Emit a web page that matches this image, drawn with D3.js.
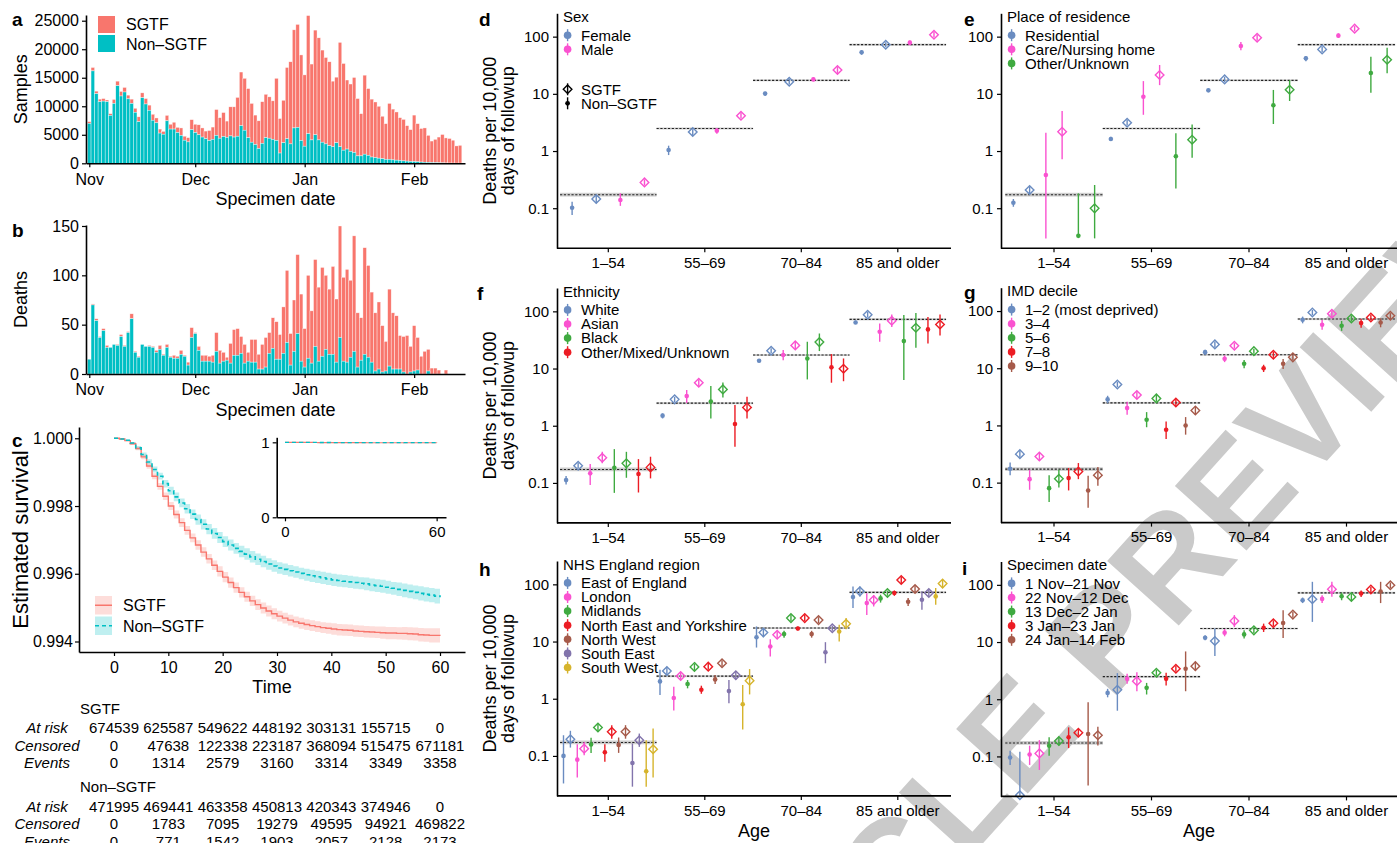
<!DOCTYPE html>
<html>
<head>
<meta charset="utf-8">
<script src="https://cdn.jsdelivr.net/npm/d3@7"></script>
<style>
  body { margin: 0; background: #fff; }
  svg { display: block; }
</style>
</head>
<body>
<svg id="figure" width="1397" height="843"></svg>
<script>
// ---------- a, b: daily counts by specimen date, starting 1 Nov 2020 ----------
const firstDay = Date.UTC(2020, 10, 1);
const monthTicks = [Date.UTC(2020, 10, 1), Date.UTC(2020, 11, 1), Date.UTC(2021, 0, 1), Date.UTC(2021, 1, 1)];

const samplesTotal = [
  7300, 16800, 12650, 11250, 11350, 11100, 8700, 11200, 14400, 12600,
  13300, 11950, 11250, 9650, 8150, 12350, 11350, 10200, 8600, 7950,
  6000, 5600, 8400, 6850, 7200, 6300, 6200, 4750, 4500, 7650,
  6850, 6750, 6200, 5650, 5750, 6350, 9430, 8000, 8900, 7400,
  9900, 9900, 11550, 16000, 14900, 13100, 10500, 8450, 7450, 10800,
  12100, 11650, 10950, 14900, 7850, 11050, 16800, 17800, 23400, 24350,
  19000, 15500, 25900, 17400, 23350, 22000, 19850, 18550, 17800, 14400,
  15100, 21200, 17500, 14600, 13900, 15050, 11350, 8700, 15450, 13100,
  11250, 10750, 10000, 8250, 6950, 10500, 9500, 9000, 8000, 7700,
  6600, 5900, 8450, 6950, 6100, 6200, 4900, 3900, 4200, 4600,
  5050, 4450, 4350, 4050, 3050, 3150
];
const samplesNonSgtf = [
  7000, 16200, 12200, 10800, 10900, 10800, 8400, 10500, 13600, 11800,
  12500, 11300, 10500, 8950, 7300, 11500, 10400, 9300, 7550, 7100,
  5300, 5100, 7450, 6000, 6000, 5400, 4900, 4050, 3750, 5900,
  5400, 5000, 4600, 4300, 4000, 4200, 4900, 4400, 4700, 4550,
  4800, 4600, 4750, 6600, 5800, 4500, 3700, 3300, 2600, 3500,
  4500, 4400, 4200, 4000, 1800, 3600, 4300, 3400, 6200, 6300,
  4000, 3000, 5200, 4100, 5000, 4100, 3700, 3400, 3100, 2900,
  3600, 2900, 2300, 2500, 2100, 1900, 1300, 1300, 1600, 1400,
  1100, 1000, 900, 800, 700, 700, 600, 550, 500, 420,
  380, 320, 300, 260, 220, 190, 160, 130, 110, 90,
  80, 60, 50, 40, 30, 30
];
const deathsTotal = [
  15, 71, 56, 38, 46, 29, 27, 30, 30, 40,
  29, 43, 61, 23, 18, 30, 28, 29, 28, 24,
  29, 20, 30, 18, 19, 18, 24, 19, 12, 47,
  42, 28, 19, 19, 18, 19, 42, 24, 22, 17,
  31, 45, 46, 38, 30, 22, 35, 35, 20, 30,
  37, 42, 57, 53, 40, 68, 105, 41, 75, 121,
  81, 46, 100, 64, 116, 88, 108, 100, 86, 109,
  76, 150, 98, 106, 95, 140, 62, 57, 128, 110,
  83, 62, 73, 49, 33, 86, 62, 59, 39, 38,
  39, 28, 49, 37, 18, 23, 25, 6, 6, 4,
  0, 4, 0, 0, 0, 0
];
const deathsNonSgtf = [
  15, 70, 54, 37, 44, 27, 27, 30, 29, 38,
  28, 42, 56, 22, 17, 30, 28, 28, 27, 22,
  25, 19, 27, 17, 16, 16, 20, 18, 9, 37,
  41, 24, 13, 13, 13, 12, 23, 11, 13, 14,
  11, 19, 19, 21, 11, 13, 12, 12, 5, 5,
  7, 21, 26, 15, 15, 21, 32, 9, 23, 41,
  13, 7, 16, 11, 28, 13, 18, 25, 20, 20,
  12, 37, 13, 12, 17, 23, 7, 14, 20, 17,
  12, 3, 5, 2, 3, 8, 5, 5, 5, 2,
  0, 2, 3, 4, 0, 0, 3, 0, 0, 0,
  0, 0, 0, 0, 0, 0
];

// ---------- c: Kaplan-Meier survival by day of followup (0..60) ----------
const kmSgtf = [
  1.00000, 0.99998, 0.99993, 0.99984, 0.99970, 0.99945, 0.99918, 0.99888, 0.99858, 0.99829,
  0.99800, 0.99775, 0.99751, 0.99728, 0.99706, 0.99685, 0.99664, 0.99644, 0.99625, 0.99607,
  0.99590, 0.99574, 0.99559, 0.99545, 0.99532, 0.99520, 0.99509, 0.99499, 0.99490, 0.99482,
  0.99475, 0.99469, 0.99463, 0.99458, 0.99454, 0.99450, 0.99447, 0.99444, 0.99441, 0.99439,
  0.99437, 0.99435, 0.99434, 0.99433, 0.99431, 0.99430, 0.99429, 0.99428, 0.99427, 0.99426,
  0.99425, 0.99425, 0.99424, 0.99424, 0.99423, 0.99422, 0.99420, 0.99419, 0.99418, 0.99418,
  0.99417
];
const kmNonSgtf = [
  1.00000, 0.99998, 0.99994, 0.99986, 0.99972, 0.99952, 0.99930, 0.99908, 0.99888, 0.99866,
  0.99845, 0.99827, 0.99809, 0.99792, 0.99776, 0.99760, 0.99746, 0.99732, 0.99719, 0.99707,
  0.99695, 0.99685, 0.99675, 0.99666, 0.99658, 0.99650, 0.99643, 0.99636, 0.99629, 0.99623,
  0.99617, 0.99613, 0.99609, 0.99605, 0.99601, 0.99597, 0.99594, 0.99591, 0.99588, 0.99585,
  0.99582, 0.99580, 0.99578, 0.99576, 0.99574, 0.99572, 0.99570, 0.99567, 0.99565, 0.99563,
  0.99560, 0.99557, 0.99554, 0.99551, 0.99548, 0.99545, 0.99542, 0.99539, 0.99537, 0.99534,
  0.99531
];
// half widths of the confidence bands
const kmSgtfHalf = [
  0, 0.00001, 0.00002, 0.00004, 0.00005, 0.00007, 0.00008, 0.00009, 0.00010, 0.00011,
  0.00012, 0.00012, 0.00013, 0.00013, 0.00013, 0.00014, 0.00014, 0.00014, 0.00014, 0.00015,
  0.00015, 0.00015, 0.00015, 0.00015, 0.00015, 0.00015, 0.00016, 0.00016, 0.00016, 0.00016,
  0.00016, 0.00016, 0.00016, 0.00016, 0.00016, 0.00016, 0.00016, 0.00016, 0.00016, 0.00016,
  0.00017, 0.00017, 0.00017, 0.00017, 0.00017, 0.00017, 0.00017, 0.00017, 0.00017, 0.00018,
  0.00018, 0.00018, 0.00018, 0.00019, 0.00019, 0.00019, 0.00020, 0.00020, 0.00021, 0.00021,
  0.00022
];
const kmNonSgtfHalf = [
  0, 0.00001, 0.00002, 0.00003, 0.00005, 0.00006, 0.00008, 0.00009, 0.00010, 0.00011,
  0.00012, 0.00013, 0.00013, 0.00014, 0.00014, 0.00015, 0.00015, 0.00015, 0.00016, 0.00016,
  0.00016, 0.00016, 0.00016, 0.00017, 0.00017, 0.00017, 0.00017, 0.00017, 0.00017, 0.00017,
  0.00017, 0.00017, 0.00017, 0.00017, 0.00017, 0.00018, 0.00018, 0.00018, 0.00018, 0.00018,
  0.00018, 0.00018, 0.00018, 0.00018, 0.00018, 0.00018, 0.00019, 0.00019, 0.00019, 0.00019,
  0.00019, 0.00019, 0.00020, 0.00020, 0.00020, 0.00020, 0.00021, 0.00021, 0.00021, 0.00022,
  0.00022
];

// risk table
const riskTimes = [0, 10, 20, 30, 40, 50, 60];
const sgtfAtRisk = [674539, 625587, 549622, 448192, 303131, 155715, 0];
const sgtfCensored = [0, 47638, 122338, 223187, 368094, 515475, 671181];
const sgtfEvents = [0, 1314, 2579, 3160, 3314, 3349, 3358];
const nonAtRisk = [471995, 469441, 463358, 450813, 420343, 374946, 0];
const nonCensored = [0, 1783, 7095, 19279, 49595, 94921, 469822];
const nonEvents = [0, 771, 1542, 1903, 2057, 2128, 2173];

// ---------- d-i: deaths per 10,000 days of followup ----------
const ageGroups = ["1\u201354", "55\u201369", "70\u201384", "85 and older"];
const refRate = [0.172, 2.48, 17.2, 72.5];
const refLow = [0.160, 2.38, 16.6, 69.5];
const refHigh = [0.186, 2.58, 17.8, 75.5];
const rateTicks = [0.1, 1, 10, 100];

// each row: one level, non-SGTF then SGTF; [estimate, lower, upper] per age group
const sexLevels = ["Female", "Male"];
const sexRows = [
  [[0.102, 0.076, 0.130], [1.04, 0.85, 1.24], [10.1, 9.3, 10.9], [53.1, 48.4, 58.0]],
  [[0.145, 0.122, 0.170], [2.15, 1.90, 2.40], [16.3, 14.6, 18.4], [72.3, 65.0, 80.0]],
  [[0.139, 0.110, 0.182], [2.27, 2.00, 2.50], [17.9, 16.6, 19.4], [78.5, 71.0, 86.0]],
  [[0.283, 0.250, 0.320], [4.15, 3.70, 4.70], [26.1, 23.2, 29.4], [108, 97, 120]]
];

const residenceLevels = ["Residential", "Care/Nursing home", "Other/Unknown"];
const residenceRows = [
  [[0.125, 0.106, 0.145], [1.62, 1.50, 1.78], [11.5, 10.8, 12.3], [41.7, 37, 46]],
  [[0.208, 0.18, 0.24], [3.13, 2.8, 3.5], [17.9, 16, 20], [59.9, 54, 67]],
  [[0.38, 0.0297, 2.09], [8.9, 4.3, 16.7], [68.5, 58, 81], [104, 95, 114]],
  [[2.18, 0.715, 5.0], [21.3, 14.2, 31.9], [95.8, 85, 108], [138, 124, 153]],
  [[0.033, 0.030, 0.182], [0.81, 0.222, 2.04], [6.3, 2.97, 11.7], [23.1, 10.5, 44.6]],
  [[0.0995, 0.0297, 0.255], [1.58, 0.76, 2.92], [11.8, 7.5, 17.4], [39.5, 22.8, 64]]
];

const ethnicityLevels = ["White", "Asian", "Black", "Other/Mixed/Unknown"];
const ethnicityRows = [
  [[0.112, 0.094, 0.132], [1.50, 1.34, 1.64], [13.7, 12.8, 14.6], [64, 60, 69]],
  [[0.200, 0.180, 0.225], [2.89, 2.60, 3.20], [20.5, 18.6, 22.6], [87.2, 78, 97.5]],
  [[0.147, 0.092, 0.214], [3.3, 2.5, 4.2], [17.2, 14, 21], [44, 29.3, 61.5]],
  [[0.276, 0.22, 0.35], [5.65, 4.95, 6.45], [25.4, 22, 29], [68.5, 53.5, 88]],
  [[0.184, 0.067, 0.39], [2.66, 1.34, 4.94], [15.0, 6.45, 29.4], [30.2, 6.3, 86]],
  [[0.22, 0.123, 0.35], [4.32, 3.13, 5.7], [29, 20.2, 41], [51.7, 23.1, 94]],
  [[0.143, 0.068, 0.261], [1.07, 0.43, 2.3], [10.5, 5.65, 17.9], [48.3, 27.5, 80]],
  [[0.187, 0.12, 0.287], [2.09, 1.34, 3.2], [9.9, 6.0, 15], [59, 38, 88]]
];

const imdLevels = ["1\u20132 (most deprived)", "3\u20134", "5\u20136", "7\u20138", "9\u201310"];
const imdRows = [
  [[0.175, 0.134, 0.225], [2.85, 2.45, 3.3], [19.1, 17, 21], [70.3, 61, 80]],
  [[0.315, 0.275, 0.36], [5.2, 4.7, 5.8], [26.1, 23, 29.4], [94.6, 85, 105]],
  [[0.115, 0.075, 0.168], [2.01, 1.54, 2.6], [14.6, 12.8, 16.8], [57.5, 47, 70]],
  [[0.287, 0.24, 0.33], [3.4, 3.0, 3.9], [24.7, 22, 27.5], [89.6, 78, 101]],
  [[0.08, 0.046, 0.134], [1.26, 0.93, 1.71], [12.0, 10, 14], [55.3, 45, 67]],
  [[0.117, 0.082, 0.168], [2.97, 2.6, 3.4], [19.9, 18, 22], [74.3, 66, 84]],
  [[0.12, 0.073, 0.18], [0.84, 0.58, 1.17], [10.0, 8.6, 11.5], [61.5, 51, 73]],
  [[0.157, 0.115, 0.22], [2.52, 2.15, 2.9], [17.2, 15.2, 19.4], [77.3, 69, 86]],
  [[0.073, 0.0364, 0.132], [1.0, 0.69, 1.4], [12.0, 9.7, 14.5], [63.2, 52, 75]],
  [[0.135, 0.088, 0.187], [1.83, 1.54, 2.15], [15.5, 13.6, 17.4], [82.6, 73, 92]]
];

const regionLevels = ["East of England", "London", "Midlands", "North East and Yorkshire", "North West", "South East", "South West"];
const regionRows = [
  [[0.1, 0.033, 0.23], [2.01, 1.16, 3.2], [11.9, 7.85, 18.4], [60, 38.5, 92]],
  [[0.196, 0.14, 0.275], [3.06, 2.53, 3.64], [14.4, 11.9, 17.1], [75.4, 61.5, 92]],
  [[0.086, 0.042, 0.16], [1.03, 0.62, 1.62], [8.2, 5.45, 11], [47, 29, 70]],
  [[0.134, 0.103, 0.176], [2.5, 2.18, 2.86], [13.1, 11.4, 15], [53, 41, 65]],
  [[0.158, 0.113, 0.207], [1.81, 1.52, 2.12], [13.5, 11.7, 15.4], [56.8, 48, 66]],
  [[0.314, 0.263, 0.37], [3.6, 3.18, 4.06], [25.7, 22.8, 29], [70.4, 63, 78]],
  [[0.116, 0.079, 0.16], [1.44, 1.22, 1.69], [16.9, 15.6, 18.4], [70.4, 63, 78]],
  [[0.264, 0.2, 0.345], [3.64, 3.2, 4.2], [25.7, 22.8, 29], [119, 106, 134]],
  [[0.156, 0.113, 0.21], [2.18, 1.81, 2.6], [13.5, 11.7, 15.4], [49.6, 42, 57.5]],
  [[0.264, 0.2, 0.345], [4.17, 3.7, 4.7], [23.7, 21, 26.7], [82.8, 72, 95]],
  [[0.075, 0.029, 0.165], [1.36, 0.83, 2.12], [6.5, 4.17, 9.75], [53.8, 36, 75.6]],
  [[0.188, 0.144, 0.246], [2.57, 2.18, 2.94], [17.1, 15.4, 19], [70.4, 61.5, 80]],
  [[0.054, 0.029, 0.188], [0.8, 0.29, 1.74], [15, 10, 19.6], [61.6, 44, 86]],
  [[0.131, 0.042, 0.302], [2.07, 1.19, 3.3], [20.4, 16.4, 25.7], [103, 86, 121]]
];

const periodLevels = ["1 Nov\u201321 Nov", "22 Nov\u201312 Dec", "13 Dec\u20132 Jan", "3 Jan\u201323 Jan", "24 Jan\u201314 Feb"];
const periodRows = [
  [[0.096, 0.071, 0.126], [1.29, 1.08, 1.52], [11.9, 10.7, 13.1], [53.8, 48, 60]],
  [[0.021, 0.0205, 0.121], [1.46, 0.63, 2.86], [10.4, 5.7, 17.2], [56, 22.5, 113]],
  [[0.108, 0.071, 0.154], [2.27, 1.86, 2.78], [14.6, 12.6, 16.9], [56.8, 48, 66]],
  [[0.113, 0.058, 0.193], [2.07, 1.38, 2.97], [23.4, 18.3, 29.6], [84, 61.7, 113]],
  [[0.154, 0.103, 0.216], [1.58, 1.21, 1.93], [13.6, 11.5, 16], [63.3, 53.8, 73]],
  [[0.186, 0.156, 0.22], [2.9, 2.57, 3.27], [16, 14.2, 18.1], [61.5, 53.8, 70.4]],
  [[0.216, 0.14, 0.322], [2.27, 1.74, 2.9], [17.8, 15, 21], [70.4, 61.5, 80]],
  [[0.26, 0.23, 0.30], [3.41, 3.02, 3.84], [21.3, 18.8, 24], [82.8, 74, 92]],
  [[0.246, 0.031, 0.886], [3.41, 1.38, 6.85], [21.5, 11.8, 35.9], [76.4, 48, 113]],
  [[0.234, 0.156, 0.33], [3.79, 3.18, 4.52], [30.2, 26.7, 34], [98.6, 88, 110]]
];

// ---------- drawing ----------
const FONT = "'Liberation Sans', Arial, Helvetica, sans-serif";
const RED = "#F8766D", TEAL = "#00BFC4";
const PALETTE = ["#6A8CC1", "#FA52D0", "#3FAA40", "#EC1C24", "#A65A4A", "#8274AC", "#D6B42C"];
const DAY = 864e5;

const svg = d3.select("#figure").attr("font-family", FONT);
svg.append("rect").attr("width", 1397).attr("height", 843).attr("fill", "#fff");

// preview watermark, sits under everything
const wm = svg.append("g")
  .attr("transform", "translate(1110,702) rotate(-48)")
  .attr("font-size", 140).attr("font-weight", "bold").attr("fill", "#cacaca");
wm.append("text").attr("text-anchor", "start").text("PREVIEW");
wm.append("text").attr("text-anchor", "end").attr("x", -39).text("ACCELERATED ARTICLE");

function styleAxis(g, size) {
  g.attr("font-family", FONT).attr("font-size", size);
  g.selectAll(".domain").attr("stroke", "#000").attr("stroke-width", 1.6);
  g.selectAll(".tick line").attr("stroke", "#000").attr("stroke-width", 1.2);
  g.selectAll(".tick text").attr("fill", "#000");
  return g;
}

function label(x, y, s, size, opts = {}) {
  return svg.append("text").attr("x", x).attr("y", y)
    .attr("font-size", size)
    .attr("text-anchor", opts.anchor || "start")
    .attr("font-weight", opts.weight || null)
    .attr("font-style", opts.style || null)
    .attr("transform", opts.rotate ? `rotate(-90,${x},${y})` : null)
    .text(s);
}

const dates = samplesTotal.map((d, i) => new Date(firstDay + i * DAY));

function barPanel(total, non, box, yMax, ticks, yTitle) {
  const x = d3.scaleUtc()
    .domain([new Date(firstDay - 0.93 * DAY), new Date(firstDay + 106.4 * DAY)])
    .range([box.left, box.right]);
  const y = d3.scaleLinear().domain([0, yMax]).range([box.bottom, box.top]);
  const step = x(dates[1]) - x(dates[0]);
  const g = svg.append("g");

  g.append("g").selectAll("rect").data(total).join("rect")
    .attr("x", (d, i) => x(dates[i]) - step / 2).attr("width", step)
    .attr("y", d => y(d)).attr("height", (d, i) => y(non[i]) - y(d))
    .attr("fill", RED);
  g.append("g").selectAll("rect").data(non).join("rect")
    .attr("x", (d, i) => x(dates[i]) - step / 2).attr("width", step)
    .attr("y", d => y(d)).attr("height", d => y(0) - y(d))
    .attr("fill", TEAL);
  g.selectAll("rect").attr("stroke", "#fff").attr("stroke-width", 0.5).attr("stroke-opacity", 0.75);

  styleAxis(g.append("g").attr("transform", `translate(0,${box.bottom})`)
    .call(d3.axisBottom(x).tickValues(monthTicks.map(t => new Date(t)))
      .tickFormat(d3.utcFormat("%b")).tickSize(4).tickPadding(6).tickSizeOuter(0)), 16);
  styleAxis(g.append("g").attr("transform", `translate(${box.left},0)`)
    .call(d3.axisLeft(y).tickValues(ticks).tickFormat(d3.format("d"))
      .tickSize(4).tickPadding(3).tickSizeOuter(0)), 16);

  label((box.left + box.right) / 2, box.bottom + 42, "Specimen date", 18, { anchor: "middle" });
  label(27, (box.top + box.bottom) / 2, yTitle, 18, { anchor: "middle", rotate: true });
}

// a
barPanel(samplesTotal, samplesNonSgtf, { left: 86, right: 465, top: 15, bottom: 163.3 },
  26000, [0, 5000, 10000, 15000, 20000, 25000], "Samples");
svg.append("rect").attr("x", 98).attr("y", 16).attr("width", 17).attr("height", 17).attr("fill", RED);
svg.append("rect").attr("x", 98).attr("y", 35).attr("width", 17).attr("height", 17).attr("fill", TEAL);
label(126, 30, "SGTF", 16);
label(126, 49.5, "Non\u2013SGTF", 16);
label(12, 26, "a", 19, { weight: "bold" });

// b
barPanel(deathsTotal, deathsNonSgtf, { left: 86, right: 465, top: 225, bottom: 374 },
  151, [0, 50, 100, 150], "Deaths");
label(12, 237, "b", 19, { weight: "bold" });

// c: survival curves
(function () {
  const x = d3.scaleLinear().domain([-6.44, 64.6]).range([79, 465]);
  const y = d3.scaleLinear().domain([0.99369, 1.000333]).range([652, 427]);
  const g = svg.append("g");

  const area = half => d3.area().curve(d3.curveStepAfter)
    .x((d, i) => x(i)).y0((d, i) => y(d - half[i])).y1((d, i) => y(d + half[i]));
  const line = d3.line().curve(d3.curveStepAfter).x((d, i) => x(i)).y(d => y(d));

  g.append("path").attr("d", area(kmNonSgtfHalf)(kmNonSgtf)).attr("fill", TEAL).attr("opacity", 0.25);
  g.append("path").attr("d", area(kmSgtfHalf)(kmSgtf)).attr("fill", RED).attr("opacity", 0.25);
  g.append("path").attr("d", line(kmSgtf)).attr("fill", "none").attr("stroke", RED).attr("stroke-width", 1.4);
  g.append("path").attr("d", line(kmNonSgtf)).attr("fill", "none").attr("stroke", TEAL)
    .attr("stroke-width", 1.6).attr("stroke-dasharray", "4,3");

  styleAxis(g.append("g").attr("transform", "translate(0,652)")
    .call(d3.axisBottom(x).tickValues(d3.range(0, 61, 10)).tickSize(4).tickPadding(6).tickSizeOuter(0)), 16);
  styleAxis(g.append("g").attr("transform", "translate(79,0)")
    .call(d3.axisLeft(y).tickValues([0.994, 0.996, 0.998, 1.0]).tickFormat(d3.format(".3f"))
      .tickSize(4).tickPadding(2).tickSizeOuter(0)), 16);
  label(272, 693, "Time", 18, { anchor: "middle" });
  label(28, 539.5, "Estimated survival", 22, { anchor: "middle", rotate: true });
  label(12, 447, "c", 19, { weight: "bold" });

  // legend
  const keys = [["SGTF", RED, null, 596], ["Non\u2013SGTF", TEAL, "4,3", 616.5]];
  keys.forEach(([name, col, dash, ky]) => {
    g.append("rect").attr("x", 95).attr("y", ky).attr("width", 17).attr("height", 18.5)
      .attr("fill", col).attr("opacity", 0.25);
    g.append("line").attr("x1", 95).attr("x2", 112).attr("y1", ky + 9.25).attr("y2", ky + 9.25)
      .attr("stroke", col).attr("stroke-width", 1.5).attr("stroke-dasharray", dash);
    label(123, ky + 15, name, 16);
  });

  // inset on the full 0-1 scale
  const ix = d3.scaleLinear().domain([-3.28, 63.7]).range([276.7, 446]);
  const iy = d3.scaleLinear().domain([0, 1.067]).range([517.3, 437.3]);
  const iline = d3.line().curve(d3.curveStepAfter).x((d, i) => ix(i)).y(d => iy(d));
  g.append("path").attr("d", iline(kmSgtf)).attr("fill", "none").attr("stroke", RED).attr("stroke-width", 1.2);
  g.append("path").attr("d", iline(kmNonSgtf)).attr("fill", "none").attr("stroke", TEAL)
    .attr("stroke-width", 1.3).attr("stroke-dasharray", "4,3");
  styleAxis(g.append("g").attr("transform", "translate(0,517.3)")
    .call(d3.axisBottom(ix).tickValues([0, 60]).tickSize(4).tickPadding(5).tickSizeOuter(0)), 15);
  styleAxis(g.append("g").attr("transform", "translate(276.7,0)")
    .call(d3.axisLeft(iy).tickValues([0, 1]).tickFormat(d3.format("d"))
      .tickSize(4).tickPadding(3).tickSizeOuter(0)), 15);

  // risk table
  const rows = [
    ["SGTF", [["At risk", sgtfAtRisk], ["Censored", sgtfCensored], ["Events", sgtfEvents]], 713.5],
    ["Non\u2013SGTF", [["At risk", nonAtRisk], ["Censored", nonCensored], ["Events", nonEvents]], 792]
  ];
  rows.forEach(([head, lines, hy]) => {
    label(80, hy, head, 15);
    lines.forEach(([name, vals], r) => {
      const ly = hy + 19.5 + r * 17.6;
      label(47, ly, name, 15, { anchor: "middle", style: "italic" });
      vals.forEach((v, k) => label(x(riskTimes[k]), ly, String(v), 15, { anchor: "middle" }));
    });
  });
})();

// d-i: rate panels
function ratePanel(p) {
  const y = d3.scaleLog().domain([0.02, 256]).range([p.y1 + 97.2, p.y1 - 137.7]);
  const xb = d3.scaleBand().domain(ageGroups).range([p.c0 - p.band / 2, p.c0 + 3.5 * p.band]);
  const g = svg.append("g");

  // overall rate per age group
  ageGroups.forEach((a, k) => {
    g.append("rect").attr("x", xb(a)).attr("width", xb.bandwidth())
      .attr("y", y(refHigh[k])).attr("height", y(refLow[k]) - y(refHigh[k]))
      .attr("fill", "#bdbdbd").attr("opacity", 0.75);
    g.append("line").attr("x1", xb(a)).attr("x2", xb(a) + xb.bandwidth())
      .attr("y1", y(refRate[k])).attr("y2", y(refRate[k]))
      .attr("stroke", "#222").attr("stroke-width", 1.1).attr("stroke-dasharray", "2.2,1.6");
  });

  const slot = xb.bandwidth() / p.rows.length;
  p.rows.forEach((row, j) => {
    const col = PALETTE[Math.floor(j / 2)];
    const sgtf = j % 2 === 1;
    row.forEach((v, k) => {
      const cx = xb(ageGroups[k]) + (j + 0.5) * slot;
      const cy = y(v[0]);
      g.append("line").attr("x1", cx).attr("x2", cx).attr("y1", y(v[1])).attr("y2", y(v[2]))
        .attr("stroke", col).attr("stroke-width", 1.4);
      if (sgtf) {
        const r = 4.3;
        g.append("path").attr("d", `M${cx},${cy - r}L${cx + r},${cy}L${cx},${cy + r}L${cx - r},${cy}Z`)
          .attr("fill", "none").attr("stroke", col).attr("stroke-width", 1.4);
      } else {
        g.append("circle").attr("cx", cx).attr("cy", cy).attr("r", 2.3).attr("fill", col);
      }
    });
  });

  const bottom = p.y1 + 97.2;
  const xa = styleAxis(g.append("g").attr("transform", `translate(0,${bottom})`)
    .call(d3.axisBottom(xb).tickSize(4).tickPadding(5).tickSizeOuter(0)), 15);
  xa.select(".domain").remove();
  g.append("line").attr("x1", p.x0).attr("x2", p.x1).attr("y1", bottom).attr("y2", bottom)
    .attr("stroke", "#000").attr("stroke-width", 1.6);
  styleAxis(g.append("g").attr("transform", `translate(${p.x0},0)`)
    .call(d3.axisLeft(y).tickValues(rateTicks).tickFormat(d3.format("~g"))
      .tickSize(4).tickPadding(4).tickSizeOuter(0)), 15);

  // colour legend
  const lx = p.x0 + 6;
  label(lx, p.y1 - 134.3 + 5.3, p.title, 15);
  p.levels.forEach((lv, i) => {
    const cy = p.y1 - 134.3 + 18.5 + i * 14.1;
    g.append("line").attr("x1", lx + 4.6).attr("x2", lx + 4.6).attr("y1", cy - 6).attr("y2", cy + 6)
      .attr("stroke", PALETTE[i]).attr("stroke-width", 1.4);
    g.append("circle").attr("cx", lx + 4.6).attr("cy", cy).attr("r", 3.8).attr("fill", PALETTE[i]);
    label(lx + 18, cy + 5.3, lv, 15);
  });

  if (p.shapes) {
    [["SGTF", true, 89.3], ["Non\u2013SGTF", false, 103.3]].forEach(([name, open, cy]) => {
      const kx = lx + 4.6;
      g.append("line").attr("x1", kx).attr("x2", kx).attr("y1", cy - 6).attr("y2", cy + 6)
        .attr("stroke", "#000").attr("stroke-width", 1.4);
      if (open) {
        g.append("path").attr("d", `M${kx},${cy - 4.3}L${kx + 4.3},${cy}L${kx},${cy + 4.3}L${kx - 4.3},${cy}Z`)
          .attr("fill", "none").attr("stroke", "#000").attr("stroke-width", 1.4);
      } else {
        g.append("circle").attr("cx", kx).attr("cy", cy).attr("r", 2.4).attr("fill", "#000");
      }
      label(lx + 18, cy + 5.3, name, 15);
    });
  }

  if (p.yTitle) {
    label(496, (p.y1 - 137.7 + bottom) / 2, "Deaths per 10,000", 18, { anchor: "middle", rotate: true });
    label(514, (p.y1 - 137.7 + bottom) / 2, "days of followup", 18, { anchor: "middle", rotate: true });
  }
  if (p.xTitle) label((p.x0 + p.x1) / 2, bottom + 41, "Age", 18, { anchor: "middle" });
  label(p.lx, p.ly, p.letter, 19, { weight: "bold" });
}

const leftCol = { x0: 557, x1: 951, c0: 608.3, band: 96.5 };
const rightCol = { x0: 1001, x1: 1397, c0: 1054, band: 97.5 };

ratePanel({ ...leftCol, y1: 151, title: "Sex", levels: sexLevels, rows: sexRows,
  shapes: true, yTitle: true, letter: "d", lx: 479, ly: 26 });
ratePanel({ ...rightCol, y1: 151, title: "Place of residence", levels: residenceLevels, rows: residenceRows,
  letter: "e", lx: 964, ly: 26 });
ratePanel({ ...leftCol, y1: 425.7, title: "Ethnicity", levels: ethnicityLevels, rows: ethnicityRows,
  yTitle: true, letter: "f", lx: 477, ly: 300 });
ratePanel({ ...rightCol, y1: 425.4, title: "IMD decile", levels: imdLevels, rows: imdRows,
  letter: "g", lx: 964, ly: 299 });
ratePanel({ ...leftCol, y1: 698.7, title: "NHS England region", levels: regionLevels, rows: regionRows,
  yTitle: true, xTitle: true, letter: "h", lx: 479, ly: 576 });
ratePanel({ ...rightCol, y1: 699.2, title: "Specimen date", levels: periodLevels, rows: periodRows,
  xTitle: true, letter: "i", lx: 962, ly: 575 });
</script>
</body>
</html>
